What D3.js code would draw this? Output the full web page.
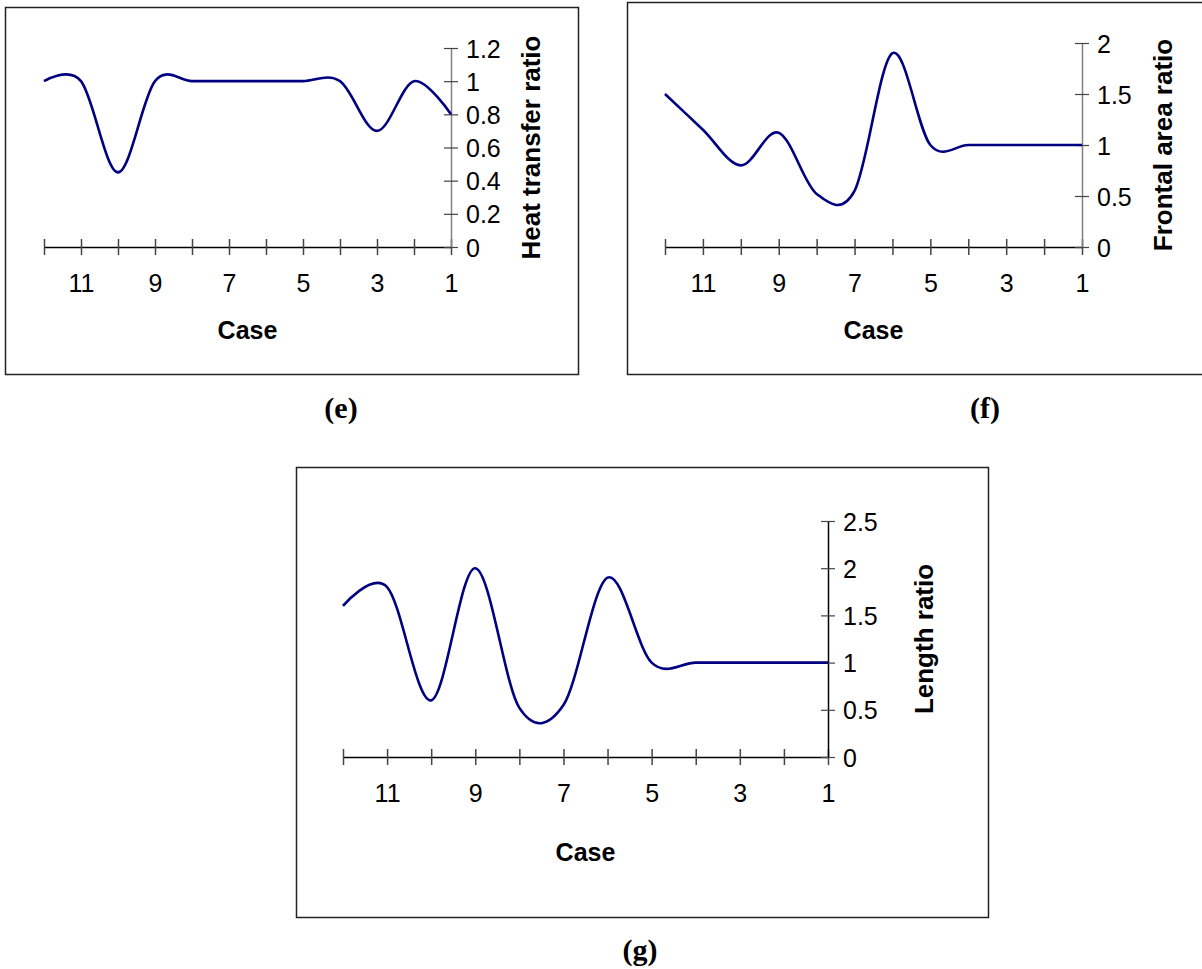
<!DOCTYPE html>
<html><head><meta charset="utf-8">
<script src="https://cdn.jsdelivr.net/npm/d3@7"></script>
<style>body{margin:0;background:#fff}svg{display:block}</style>
</head><body>
<svg id="c" width="1202" height="969"></svg>
<script>
const cases = [12,11,10,9,8,7,6,5,4,3,2,1];
const xTickLabels = [11,9,7,5,3,1];
const heatTransfer = [1,1,0.45,1,1,1,1,1,1,0.7,1,0.8];
const frontalArea = [1.5,1.15,0.8,1.12,0.52,0.55,1.9,1,1,1,1,1];
const lengthRatio = [1.6,1.8,0.6,2.0,0.52,0.55,1.9,1,1,1,1,1];
const yTicksE = [0,0.2,0.4,0.6,0.8,1,1.2];
const yTicksF = [0,0.5,1,1.5,2];
const yTicksG = [0,0.5,1,1.5,2,2.5];

const svg = d3.select('#c');
const FONT = '"Liberation Sans", Arial, sans-serif';

const panels = [
  {vals: heatTransfer, ticks: yTicksE, ymax: 1.2, title: 'Heat transfer ratio', label: '(e)',
   box: [5,7,578,374], x: [44,451], y: [247,48], titleX: 531, caseOff: 92, labelPos: [341,408], yAxisColor:'#808080'},
  {vals: frontalArea, ticks: yTicksF, ymax: 2, title: 'Frontal area ratio', label: '(f)',
   box: [627,2,1210,374], x: [665,1082], y: [247,43], titleX: 1163, caseOff: 92, labelPos: [985,408], yAxisColor:'#808080'},
  {vals: lengthRatio, ticks: yTicksG, ymax: 2.5, title: 'Length ratio', label: '(g)',
   box: [296,467,988,917], x: [343,828], y: [757,521], titleX: 924, caseOff: 104, labelPos: [640,950], yAxisColor:'#000'}
];

panels.forEach(p => {
  const [bx0,by0,bx1,by1] = p.box;
  svg.append('rect').attr('x',bx0+0.5).attr('y',by0+0.5).attr('width',bx1-bx0).attr('height',by1-by0)
    .attr('fill','none').attr('stroke','#222').attr('stroke-width',1.5);

  const x = d3.scalePoint().domain(cases).range(p.x);
  const y = d3.scaleLinear().domain([0,p.ymax]).range(p.y);
  const g = svg.append('g');

  // x axis
  const xa = g.append('g').attr('transform',`translate(0,${p.y[0]})`)
    .call(d3.axisBottom(x).tickSizeInner(8).tickSizeOuter(0).tickFormat(d => xTickLabels.includes(d) ? d : ''));
  xa.select('.domain').attr('stroke','#000').attr('stroke-width',1.5);
  xa.selectAll('.tick line').attr('y1',-8).attr('y2',8).attr('stroke','#444').attr('stroke-width',1.5);
  xa.selectAll('.tick text').attr('y',45).attr('dy',0).attr('font-size',25).attr('font-family',FONT).attr('fill','#000');

  // y axis
  const ya = g.append('g').attr('transform',`translate(${p.x[1]},0)`)
    .call(d3.axisRight(y).tickValues(p.ticks).tickSizeInner(7).tickSizeOuter(0).tickFormat(d3.format('')));
  ya.select('.domain').attr('stroke',p.yAxisColor).attr('stroke-width',1.5);
  ya.selectAll('.tick line').attr('x1',-7).attr('x2',7).attr('stroke','#444').attr('stroke-width',1.2);
  ya.selectAll('.tick text').attr('x',15).attr('dy','0.36em').attr('text-anchor','start')
    .attr('font-size',25).attr('font-family',FONT).attr('fill','#000');

  // line
  const line = d3.line().x((d,i)=>x(cases[i])).y(d=>y(d)).curve(d3.curveCardinal.tension(0));
  g.append('path').datum(p.vals).attr('d',line).attr('fill','none').attr('stroke','#000080').attr('stroke-width',2.6);

  // titles
  g.append('text').attr('x',(p.x[0]+p.x[1])/2).attr('y',p.y[0]+p.caseOff).attr('text-anchor','middle')
    .attr('font-size',25).attr('font-weight','bold').attr('font-family',FONT).text('Case');
  const cy = (p.y[0]+p.y[1])/2;
  g.append('text').attr('transform',`translate(${p.titleX+9},${cy}) rotate(-90)`).attr('text-anchor','middle')
    .attr('font-size',26).attr('font-weight','bold').attr('font-family',FONT).text(p.title);
  svg.append('text').attr('x',p.labelPos[0]).attr('y',p.labelPos[1]+10).attr('text-anchor','middle')
    .attr('font-size',30).attr('font-weight','bold').attr('font-family','"Liberation Serif", "Times New Roman", serif').text(p.label);
});
</script>
</body></html>
